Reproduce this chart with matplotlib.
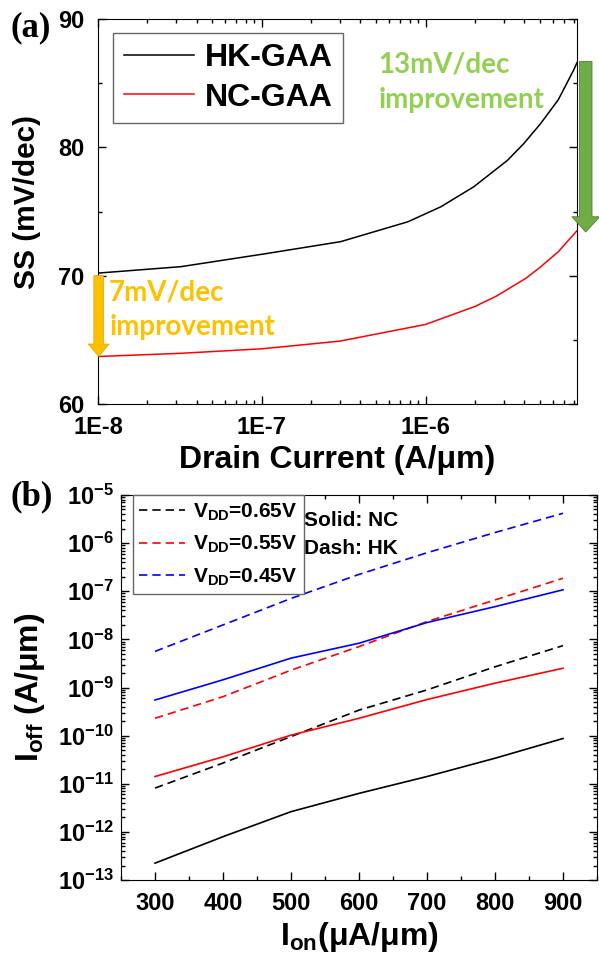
import numpy as np
import matplotlib
matplotlib.use("Agg")
import matplotlib.pyplot as plt
from matplotlib.patches import FancyArrowPatch
from matplotlib.ticker import LogLocator, FixedLocator, NullFormatter, MultipleLocator

plt.rcParams['font.family'] = ['Liberation Sans', 'DejaVu Sans']
plt.rcParams['font.weight'] = 'bold'
plt.rcParams['axes.labelweight'] = 'bold'
plt.rcParams['mathtext.fontset'] = 'custom'
plt.rcParams['mathtext.rm'] = 'Liberation Sans:bold'
plt.rcParams['mathtext.bf'] = 'Liberation Sans:bold'
plt.rcParams['mathtext.it'] = 'Liberation Sans:bold'
plt.rcParams['mathtext.default'] = 'rm'

#%% data, panel (a): SS vs drain current
id_hk = [1e-8, 3.2e-8, 1.04e-7, 3.03e-7, 7.8e-7, 1.24e-6, 1.97e-6, 3.17e-6, 3.98e-6, 5.05e-6, 6.45e-6, 8.0e-6, 8.4e-6]
ss_hk = [70.2, 70.7, 71.7, 72.65, 74.2, 75.37, 76.93, 79.0, 80.3, 81.87, 83.7, 86.0, 86.6]
id_nc = [1e-8, 3.2e-8, 1e-7, 3e-7, 1e-6, 2e-6, 2.7e-6, 4.1e-6, 5.05e-6, 6.45e-6, 8.0e-6, 8.4e-6]
ss_nc = [63.7, 63.95, 64.3, 64.9, 66.2, 67.6, 68.4, 69.8, 70.7, 71.86, 73.2, 73.5]

#%% data, panel (b): Ioff vs Ion (log10 of Ioff)
ion = [300, 400, 500, 600, 700, 800, 900]
hk_065 = [-11.09, -10.57, -10.02, -9.47, -9.05, -8.57, -8.13]
hk_055 = [-9.64, -9.19, -8.64, -8.15, -7.63, -7.18, -6.73]
hk_045 = [-8.25, -7.70, -7.15, -6.65, -6.20, -5.78, -5.38]
nc_065 = [-12.65, -12.10, -11.58, -11.20, -10.85, -10.47, -10.06]
nc_055 = [-10.85, -10.44, -9.99, -9.64, -9.25, -8.91, -8.60]
nc_045 = [-9.26, -8.84, -8.39, -8.08, -7.65, -7.32, -6.97]
vdd_labels = ['V$_{DD}$=0.65V', 'V$_{DD}$=0.55V', 'V$_{DD}$=0.45V']
colors = ['black', 'red', 'blue']

fig = plt.figure(figsize=(5.99, 9.59), dpi=100)
ax1 = fig.add_axes([98/599, 1-404/959, 479/599, 385/959])
ax2 = fig.add_axes([121/599, 1-880/959, 476/599, 385/959])

#%% panel (a)
ax1.plot(id_hk, ss_hk, color='black', lw=1.1, label='HK-GAA')
ax1.plot(id_nc, ss_nc, color='red', lw=1.1, label='NC-GAA')
ax1.set_xscale('log')
ax1.set_xlim(1e-8, 8.4e-6)
ax1.set_ylim(60, 90)
ax1.set_yticks([60, 70, 80, 90])
ax1.yaxis.set_minor_locator(MultipleLocator(5))
ax1.set_xticks([1e-8, 1e-7, 1e-6])
ax1.set_xticklabels(['1E-8', '1E-7', '1E-6'])
ax1.xaxis.set_minor_locator(LogLocator(base=10, subs=np.arange(2, 10)))
ax1.xaxis.set_minor_formatter(NullFormatter())
ax1.tick_params(which='both', direction='in', top=True, right=True, labelsize=17, width=1)
ax1.tick_params(which='major', length=6)
ax1.tick_params(which='minor', length=3)
ax1.tick_params(axis='x', pad=9)
ax1.tick_params(axis='y', pad=10)
ax1.set_ylabel('SS (mV/dec)', fontsize=21.5)
ax1.yaxis.set_label_coords(-0.12, 0.525)
ax1.set_xlabel('Drain Current (A/\u03bcm)', fontsize=23, labelpad=4)

leg1 = ax1.legend(loc='upper left', bbox_to_anchor=(0.032, 0.964), borderaxespad=0,
                  fontsize=23, handlelength=2.2, handletextpad=0.35, labelspacing=0.3,
                  borderpad=0.32, fancybox=False, edgecolor='0.4', framealpha=1)
leg1.get_frame().set_linewidth(1)

# arrows and notes
orange = FancyArrowPatch((1.01e-8, 70.0), (1.01e-8, 63.7), arrowstyle='simple,head_length=9,head_width=15,tail_width=7',
                         mutation_scale=1, color='#FFC000', ec='#D9A300', lw=0.5,
                         shrinkA=0, shrinkB=0, clip_on=False, zorder=5)
ax1.add_patch(orange)
green = FancyArrowPatch((9.5e-6, 86.7), (9.5e-6, 73.4), arrowstyle='simple,head_length=11,head_width=20,tail_width=9',
                        mutation_scale=1, color='#70AD47', ec='#507E32', lw=0.6,
                        shrinkA=0, shrinkB=0, clip_on=False, zorder=5)
ax1.add_patch(green)
note = dict(fontsize=20, family='Lato', weight='bold', va='baseline')
ax1.text(1.17e-8, 68.1, '7mV/dec', color='#FFC000', **note)
ax1.text(1.17e-8, 65.37, 'improvement', color='#FFC000', **note)
ax1.text(5.16e-7, 85.8, '13mV/dec', color='#92D050', **note)
ax1.text(5.16e-7, 83.06, 'improvement', color='#92D050', **note)
fig.text(10/599, 1-28/959, '(a)', family='Liberation Serif', weight='bold', fontsize=25, va='center')

#%% panel (b)
for hk, c, lab in zip([hk_065, hk_055, hk_045], colors, vdd_labels):
    ax2.plot(ion, 10**np.array(hk), color=c, lw=1.2, ls=(0, (5, 3)), label=lab)
for nc, c in zip([nc_065, nc_055, nc_045], colors):
    ax2.plot(ion, 10**np.array(nc), color=c, lw=1.2)
ax2.set_yscale('log')
ax2.set_xlim(250, 950)
ax2.set_ylim(1e-13, 1e-5)
ax2.set_xticks([300, 400, 500, 600, 700, 800, 900])
ax2.xaxis.set_minor_locator(MultipleLocator(50))
exps = np.arange(-13, -4)
ax2.yaxis.set_major_locator(FixedLocator(10.0**exps))
ax2.set_yticklabels(['$10^{%d}$' % e for e in exps])
ax2.yaxis.set_minor_locator(LogLocator(base=10, subs=np.arange(2, 10), numticks=20))
ax2.yaxis.set_minor_formatter(NullFormatter())
ax2.tick_params(which='both', direction='in', top=True, right=True, labelsize=17, width=1)
ax2.tick_params(which='major', length=6)
ax2.tick_params(which='minor', length=3)
ax2.tick_params(axis='x', pad=9)
ax2.tick_params(axis='y', pad=5)
ax2.set_ylabel('I$_{off}$ (A/\u03bcm)', fontsize=23)
ax2.yaxis.set_label_coords(-0.155, 0.5)
ax2.set_xlabel('I$_{on}$(\u03bcA/\u03bcm)', fontsize=23, labelpad=3)

leg2 = ax2.legend(loc='upper left', bbox_to_anchor=(0.025, 1.0), borderaxespad=0,
                  fontsize=15, handlelength=2.2, handletextpad=0.4, labelspacing=0.55,
                  fancybox=False, edgecolor='0.4', framealpha=1, borderpad=0.3)
leg2.get_frame().set_linewidth(1)
ax2.text(0.385, 0.935, 'Solid: NC', transform=ax2.transAxes, fontsize=15, va='center')
ax2.text(0.385, 0.862, 'Dash: HK', transform=ax2.transAxes, fontsize=15, va='center')
fig.text(10/599, 1-497/959, '(b)', family='Liberation Serif', weight='bold', fontsize=25, va='center')

fig.savefig('out.png', dpi=100)
